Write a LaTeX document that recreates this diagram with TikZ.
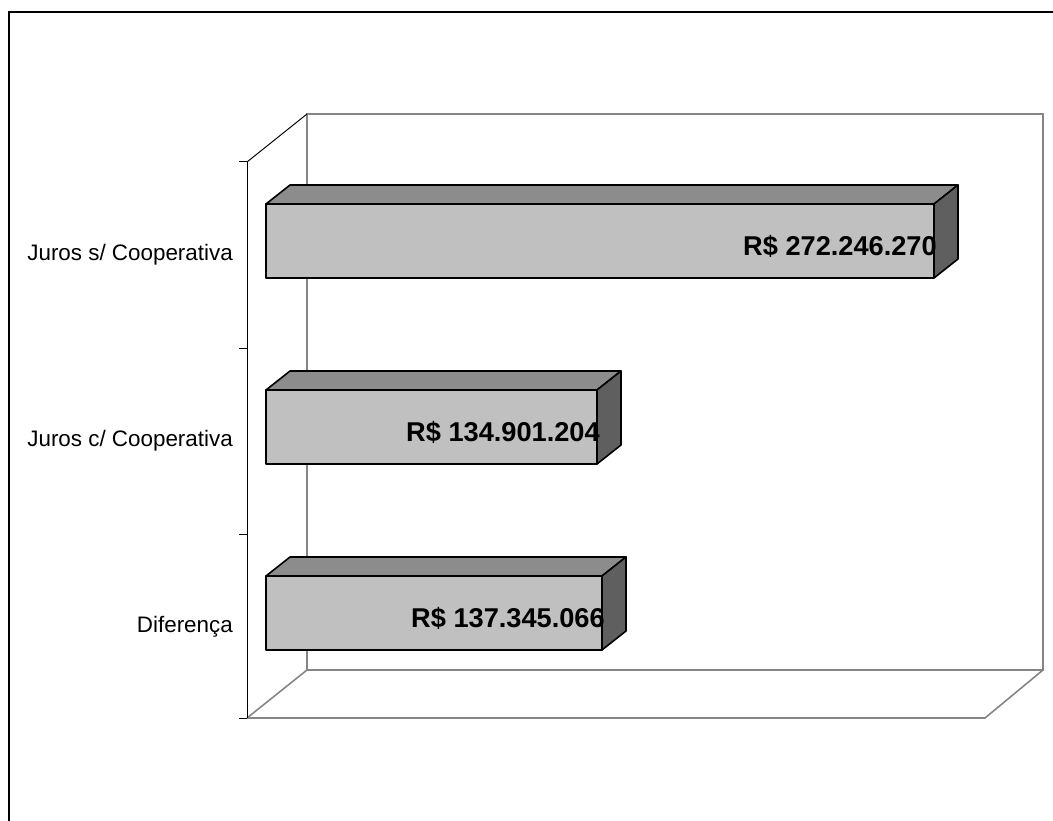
\documentclass[tikz,border=0pt]{standalone}
\usepackage{fontspec}
\setmainfont{Liberation Sans}
\definecolor{barfront}{HTML}{C0C0C0}
\definecolor{bartop}{HTML}{8C8C8C}
\definecolor{barside}{HTML}{5F5F5F}
\definecolor{wall}{HTML}{858585}
\begin{document}
\begin{tikzpicture}[x=1pt, y=-1pt,
	bar/.style={draw=black, line width=1.6pt, line join=round},
	wallline/.style={draw=wall, line width=1.6pt},
	cat/.style={anchor=east, inner sep=0pt, font=\fontsize{22.4}{26}\selectfont},
	val/.style={anchor=east, inner sep=0pt, font=\bfseries\fontsize{27.2}{30}\selectfont}]
	\useasboundingbox (0,0) rectangle (1053,821);
	% outer frame
	\draw[line width=1.6pt] (9,821) -- (9,12) -- (1053,12);

	% back wall and floor
	\draw[wallline] (307,670) -- (307,114) -- (1043,114) -- (1043,670) -- cycle;
	\draw[wallline] (247,718) -- (985,718) -- (1043,670);
	\draw[wallline] (247,718) -- (307,670);
	\draw[line width=1pt] (247,162) -- (307,114);

	% category axis with ticks
	\draw[line width=1pt] (247,162) -- (247,718);
	\foreach \t in {162,348,534,718}
		\draw[line width=1pt] (239,\t) -- (247,\t);

	% bars
	\foreach \i/\xr/\yt/\cy/\txt/\v in {1/934/204/255/{Juros s/ Cooperativa}/272.246.270,
			2/597/390/441/{Juros c/ Cooperativa}/134.901.204,
			3/602/576/627/{Diferença}/137.345.066} {
		\fill[bartop] (266,\yt) -- (290,\yt-19) -- (\xr+24,\yt-19) -- (\xr,\yt) -- cycle;
		\draw[bar] (266,\yt) -- (290,\yt-19) -- (\xr+24,\yt-19) -- (\xr,\yt) -- cycle;
		\filldraw[bar, fill=barside] (\xr,\yt) -- (\xr+24,\yt-19) -- (\xr+24,\yt+55) -- (\xr,\yt+74) -- cycle;
		\filldraw[bar, fill=barfront] (266,\yt) rectangle (\xr,\yt+74);
		\node[val] (val\i) at (\xr+3,\yt+42) {R\$ \v};
		\node[cat] (cat\i) at (233,\cy) {\txt};
	}
\end{tikzpicture}
\end{document}
